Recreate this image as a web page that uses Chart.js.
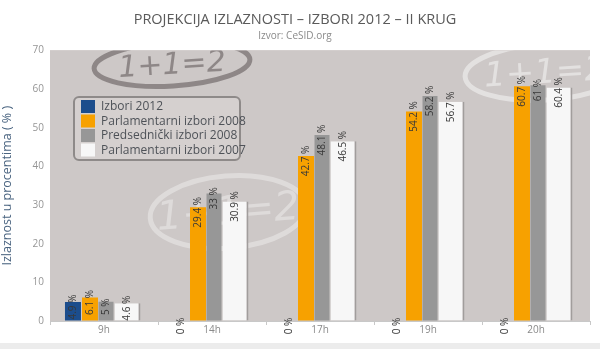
<!DOCTYPE html>
<html>
<head>
<meta charset="utf-8">
<title>Projekcija izlaznosti</title>
<script src="https://cdn.jsdelivr.net/npm/chart.js@4.4.1/dist/chart.umd.min.js"></script>
<style>
  html, body { margin: 0; padding: 0; background: #ececec; }
  #wrap { width: 600px; height: 343px; background: #fff; }
</style>
</head>
<body>
<div id="wrap"><canvas id="turnout" width="600" height="343"></canvas></div>
<script>
// turnout by hour, in percent
const hours = ['9h', '14h', '17h', '19h', '20h'];
const izbori2012 = [4.9, 0, 0, 0, 0];
const parlamentarni2008 = [6.1, 29.4, 42.7, 54.2, 60.7];
const predsednicki2008 = [5, 33, 48.1, 58.2, 61];
const parlamentarni2007 = [4.6, 30.9, 46.5, 56.7, 60.4];
const yTicks = [0, 10, 20, 30, 40, 50, 60, 70];

const labelFont = '"Open Sans", "DejaVu Sans", sans-serif';

// plot background plus the faint "1+1=2" stamps behind the bars
const plotBackground = {
  id: 'plotBackground',
  beforeDatasetsDraw(chart) {
    const { ctx, chartArea: a } = chart;
    ctx.save();
    ctx.fillStyle = '#cdc8c7';
    ctx.fillRect(a.left, a.top, a.right - a.left, a.bottom - a.top);
    ctx.beginPath();
    ctx.rect(a.left, a.top, a.right - a.left, a.bottom - a.top);
    ctx.clip();

    function stamp(cx, cy, rx, ry, rot, color, size) {
      ctx.save();
      ctx.translate(cx, cy);
      ctx.rotate(rot);
      ctx.strokeStyle = color;
      ctx.lineWidth = 5;
      ctx.beginPath();
      ctx.ellipse(0, 0, rx, ry, 0, 0, Math.PI * 2);
      ctx.stroke();
      ctx.fillStyle = color;
      ctx.font = 'italic ' + size + 'px "DejaVu Sans", sans-serif';
      ctx.textAlign = 'center';
      ctx.textBaseline = 'middle';
      ctx.fillText('1+1=2', 0, 2);
      ctx.restore();
    }
    stamp(172, 64, 78, 22, -0.06, 'rgba(120,114,113,0.75)', 30);
    stamp(228, 212, 78, 36, -0.08, 'rgba(255,255,255,0.35)', 40);
    stamp(545, 72, 80, 28, -0.06, 'rgba(255,255,255,0.45)', 34);
    ctx.restore();
  }
};

// rotated value labels sitting on the top edge of each bar
const valueLabels = {
  id: 'valueLabels',
  afterDatasetsDraw(chart) {
    const { ctx } = chart;
    ctx.save();
    ctx.font = '10px ' + labelFont;
    ctx.fillStyle = '#383838';
    ctx.textAlign = 'center';
    ctx.textBaseline = 'middle';
    chart.data.datasets.forEach((ds, i) => {
      chart.getDatasetMeta(i).data.forEach((bar, j) => {
        ctx.save();
        ctx.translate(bar.x, bar.y + 5);
        ctx.rotate(-Math.PI / 2);
        ctx.fillText(ds.data[j] + ' %', 0, 0);
        ctx.restore();
      });
    });
    ctx.restore();
  }
};

// floating legend box in the upper left of the plot
const boxLegend = {
  id: 'boxLegend',
  afterDatasetsDraw(chart) {
    const { ctx } = chart;
    const x = 74, y = 97, w = 166, h = 63;
    ctx.save();
    ctx.fillStyle = 'rgba(214,209,208,0.85)';
    ctx.strokeStyle = '#8e8a89';
    ctx.lineWidth = 2;
    ctx.beginPath();
    ctx.roundRect(x, y, w, h, 5);
    ctx.fill();
    ctx.stroke();
    ctx.font = '12px ' + labelFont;
    ctx.textBaseline = 'middle';
    chart.data.datasets.forEach((ds, i) => {
      const rowY = y + 9 + i * 14.5;
      ctx.fillStyle = ds.backgroundColor;
      ctx.fillRect(x + 7, rowY - 6, 14, 13);
      ctx.fillStyle = '#4e5258';
      ctx.fillText(ds.label, x + 27, rowY + 1);
    });
    ctx.restore();
  }
};

const ctx = document.getElementById('turnout').getContext('2d');
new Chart(ctx, {
  type: 'bar',
  data: {
    labels: hours,
    datasets: [
      // per-series slot sizes: the 2007 column is drawn wider than the rest
      { label: 'Izbori 2012', data: izbori2012, backgroundColor: '#1c4d8c',
        categoryPercentage: 0.766, barPercentage: 0.774 },
      { label: 'Parlamentarni izbori 2008', data: parlamentarni2008, backgroundColor: '#f7a100',
        categoryPercentage: 1.037, barPercentage: 0.571 },
      { label: 'Predsednički izbori 2008', data: predsednicki2008, backgroundColor: '#979797',
        categoryPercentage: 0.148, barPercentage: 3.75 },
      { label: 'Parlamentarni izbori 2007', data: parlamentarni2007, backgroundColor: '#f7f7f7',
        categoryPercentage: 0.58, barPercentage: 1.66,
        borderColor: '#a19d9c', borderWidth: { top: 0, left: 0, bottom: 0, right: 2 } }
    ]
  },
  options: {
    responsive: false,
    animation: false,
    layout: { padding: { left: 0, right: 10, top: 0, bottom: 0 } },
    plugins: {
      legend: { display: false },
      tooltip: { enabled: false },
      title: {
        display: true,
        text: 'PROJEKCIJA IZLAZNOSTI – IZBORI 2012 – II KRUG',
        color: '#5a5a5a',
        font: { family: labelFont, size: 14.5, weight: 'normal' },
        padding: { top: 11, bottom: 0 }
      },
      subtitle: {
        display: true,
        text: 'Izvor: CeSID.org',
        color: '#8a8a8a',
        font: { family: labelFont, size: 10 },
        padding: { top: 2, bottom: 8 }
      }
    },
    scales: {
      x: {
        grid: { display: true, drawOnChartArea: false, offset: true, tickLength: 4, color: '#c8c8c8' },
        border: { color: '#c8c8c8' },
        ticks: { color: '#8a8a8a', font: { family: labelFont, size: 10 }, padding: -1 },
        afterFit(scale) { scale.height = 22; }
      },
      y: {
        min: 0,
        max: 70,
        afterBuildTicks(scale) { scale.ticks = yTicks.map(v => ({ value: v })); },
        grid: { color: '#dbd7d6', drawTicks: false },
        border: { display: false },
        ticks: { color: '#969696', font: { family: labelFont, size: 10 }, padding: 6 },
        title: {
          display: true,
          text: 'Izlaznost u procentima ( % )',
          color: '#4a6480',
          font: { family: labelFont, size: 12.5 },
          padding: { top: 0, bottom: 6 }
        },
        afterFit(scale) { scale.width = 50; }
      }
    }
  },
  plugins: [plotBackground, valueLabels, boxLegend]
});
</script>
</body>
</html>
